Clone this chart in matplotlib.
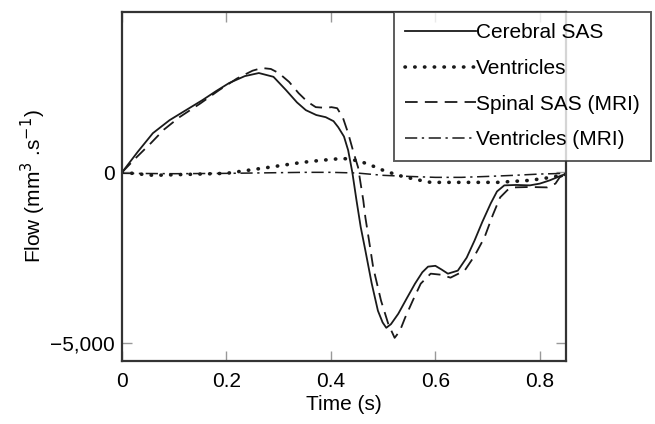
import matplotlib
matplotlib.use("Agg")
import matplotlib.pyplot as plt

plt.rcParams['font.family'] = ['Liberation Sans', 'DejaVu Sans']

# Cerebral SAS (solid)
t_cer = [0.0, 0.03, 0.059, 0.091, 0.12, 0.154, 0.18, 0.205, 0.235, 0.262, 0.29, 0.314,
         0.335, 0.352, 0.372, 0.39, 0.405, 0.414, 0.425, 0.433, 0.441, 0.449, 0.457,
         0.466, 0.478, 0.490, 0.499, 0.506, 0.515, 0.529, 0.545, 0.561, 0.575, 0.586,
         0.600, 0.612, 0.624, 0.643, 0.660, 0.675, 0.690, 0.706, 0.718, 0.732, 0.755,
         0.781, 0.800, 0.819, 0.842, 0.85]
f_cer = [0, 600, 1147, 1529, 1800, 2117, 2380, 2617, 2820, 2911, 2800, 2411,
         2050, 1823, 1680, 1617, 1500, 1323, 1050, 647, 0, -823, -1600,
         -2293, -3250, -4057, -4400, -4557, -4450, -4145, -3700, -3263, -2930, -2764,
         -2740, -2850, -2970, -2881, -2500, -2000, -1450, -911, -560, -382, -370,
         -382, -330, -235, -88, -50]

# Ventricles (dotted)
t_ven = [0.0, 0.06, 0.2, 0.281, 0.344, 0.38, 0.409, 0.42, 0.439, 0.46, 0.477, 0.5,
         0.529, 0.56, 0.591, 0.656, 0.719, 0.781, 0.82, 0.85]
f_ven = [0, -88, -29, 147, 290, 350, 390, 411, 380, 300, 206, 60,
         -88, -200, -294, -294, -294, -235, -150, -60]

# Spinal SAS (MRI) (dashed)
t_spi = [0.0, 0.025, 0.055, 0.08, 0.11, 0.15, 0.186, 0.22, 0.25, 0.268, 0.285, 0.300,
         0.32, 0.338, 0.355, 0.371, 0.39, 0.401, 0.412, 0.423, 0.433, 0.443, 0.452,
         0.462, 0.466, 0.474, 0.481, 0.496, 0.510, 0.522, 0.532, 0.542, 0.557, 0.572,
         0.591, 0.610, 0.629, 0.656, 0.675, 0.694, 0.710, 0.724, 0.738, 0.751, 0.780,
         0.814, 0.830, 0.838, 0.85]
f_spi = [0, 400, 852, 1250, 1617, 2020, 2411, 2750, 2980, 3058, 3030, 2911,
         2650, 2323, 2070, 1911, 1890, 1911, 1880, 1600, 1147, 600, 147,
         -823, -1323, -2100, -2793, -3763, -4450, -4851, -4650, -4263, -3750, -3263,
         -2970, -3000, -3087, -2881, -2450, -1911, -1250, -735, -520, -441, -430,
         -441, -330, -147, -60]

# Ventricles (MRI) (dash-dot)
t_vmr = [0.0, 0.1, 0.2, 0.3, 0.35, 0.4, 0.45, 0.5, 0.55, 0.6, 0.65, 0.7, 0.75, 0.8, 0.85]
f_vmr = [-29, -40, -30, -10, 0, 0, -20, -88, -120, -147, -147, -120, -88, -50, -29]

x_ticks = [0, 0.2, 0.4, 0.6, 0.8]
x_labels = ['0', '0.2', '0.4', '0.6', '0.8']
y_ticks = [-5000, 0]
y_labels = ['\u22125,000', '0']

FS = 15

fig = plt.figure(figsize=(6.55, 4.24), dpi=100)
ax = fig.add_axes([0.1863, 0.1486, 0.6777, 0.8231])

lc = '#1a1a1a'
ax.plot(t_cer, f_cer, color=lc, lw=1.3, ls='-', label='Cerebral SAS')
ax.plot(t_ven, f_ven, color=lc, lw=2.6, ls=(0, (0.1, 2.6)), dash_capstyle='round',
        label='Ventricles')
ax.plot(t_spi, f_spi, color=lc, lw=1.3, ls=(0, (7, 4)), label='Spinal SAS (MRI)')
ax.plot(t_vmr, f_vmr, color=lc, lw=1.1, ls=(0, (8, 3, 1.5, 3)), label='Ventricles (MRI)')

ax.set_xlim(0, 0.85)
ax.set_ylim(-5530, 4700)
ax.set_xticks(x_ticks)
ax.set_xticklabels(x_labels)
ax.set_yticks(y_ticks)
ax.set_yticklabels(y_labels)
ax.tick_params(direction='in', length=7, width=1.0, color='#999999',
               top=True, right=True, labelsize=FS, pad=5)
ax.tick_params(axis='x', pad=8)
for s in ax.spines.values():
    s.set_color('#333333')
    s.set_linewidth(1.6)

ax.set_xlabel('Time (s)', fontsize=FS, labelpad=3)
ax.set_ylabel('Flow (mm$^3$ .s$^{\u22121}$)', fontsize=FS, labelpad=2)

leg = ax.legend(loc='upper left', bbox_to_anchor=(394 / 655, 1 - 12 / 424, 257 / 655, 0.0),
                bbox_transform=fig.transFigure, mode='expand', borderaxespad=0,
                fontsize=FS, frameon=True, fancybox=False, handlelength=3.4,
                handletextpad=0.0, labelspacing=0.8, borderpad=0.55)
leg.get_frame().set_edgecolor('#333333')
leg.get_frame().set_linewidth(1.4)
leg.set_zorder(10)

fig.savefig('out.png', dpi=100)
